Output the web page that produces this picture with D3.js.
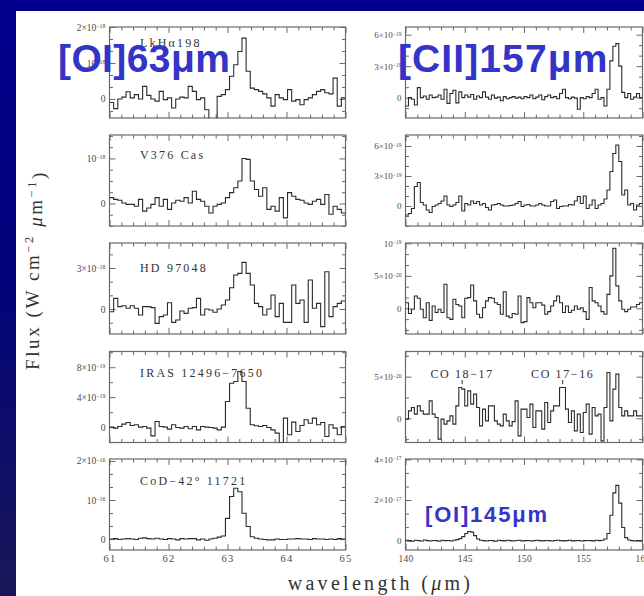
<!DOCTYPE html>
<html>
<head>
<meta charset="utf-8">
<script src="https://cdn.jsdelivr.net/npm/d3@7"></script>
<style>
  html, body { margin: 0; padding: 0; background: #00008c; }
  svg { display: block; }
</style>
</head>
<body>
<svg id="chart" width="644" height="596"></svg>
<script>
// ---------- data ----------
// Sources (one row each)
const sources = ["LkHα198", "V376 Cas", "HD 97048", "IRAS 12496−7650", "CoD−42° 11721"];

// Wavelength ranges of the two columns (μm)
const oiRange = [61, 65];
const ciiRange = [140, 160];
const oiXTicks = [61, 62, 63, 64, 65];
const ciiXTicks = [140, 145, 150, 155, 160];

// [OI] 63 μm spectra, equal-width bins across 61–65 μm
// LkHα198 (units 1e-18 W cm-2 μm-1)
const oiLkHa = [-0.1, -0.27, 0, 0.05, 0.2, 0.03, 0.12, 0, 0.35, 0.1, 0, -0.06, 0.21, -0.02, 0.03, -0.25, 0, 0.05, 0.03, 0.35,
  0.21, -0.02, 0.03, -0.3, -0.6, -0.6, 0.07, 0.12, 0.26, 0.63, 0.95, 1.32, 1.69, 0.77, 0.3, 0.26, 0.21, 0.14, 0.03, -0.2,
  0.12, 0.03, -0.02, 0.26, -0.06, -0.02, -0.16, -0.02, 0.03, 0.12, 0.21, 0.26, 0.17, 0.14, 0.58, -0.2, 0.03];
// V376 Cas (1e-18)
const oiV376 = [0.13, 0.09, 0.07, 0.01, -0.02, -0.02, -0.06, 0.09, -0.17, -0.1, -0.02, 0.13, -0.06, 0.09, -0.13, 0.01, 0.07, 0.05, 0.13, 0.01,
  0.27, 0.09, 0.05, -0.06, -0.21, -0.06, -0.02, 0.01, 0.13, 0.24, 0.35, 0.5, 1.0, 0.98, 0.5, 0.31, 0.16, 0.35, -0.13, -0.06,
  -0.17, 0.13, -0.32, 0.24, 0.16, 0.09, 0.07, 0.01, -0.02, 0.05, 0.09, -0.02, 0.2, -0.24, -0.06, -0.13, -0.21];
// HD 97048 (1e-18)
const oiHD = [-0.2, 0.78, 0.17, 0.24, 0.05, 0.24, 0.05, -0.44, 0.17, 0.17, 0.1, -1.05, -0.56, -0.44, 0.46, -0.98, -0.8, -0.15, -0.32, 0.05,
  0.1, 0.78, -0.44, 0, -0.07, -0.24, 0, 0.29, 0.66, 1.56, 2.49, 2.61, 3.41, 2.61, 1.76, 0.41, 0.17, -0.44, 0, 1.02,
  -0.56, 0.41, -0.98, -0.98, 1.76, 0.41, 0.66, -0.98, 2.12, 0.05, 0.41, -1.29, 2.73, -0.56, 0.17, 0.41, 0.59];
// IRAS 12496-7650 (1e-19)
const oiIRAS = [0, -0.13, 0.09, 0.4, 0.62, 0.22, 0.31, 0, 0.09, -0.13, -1.16, 0.76, 0.09, 0, -0.27, 0.31, -0.04, -0.13, 0.09, -0.22,
  0.09, -0.36, 0.09, 0, -0.04, -0.13, -0.36, 0, 3.42, 5.87, 6.09, 7.42, 6.09, 2.53, 0.31, 0.18, 0.09, 0.22, -0.04, -0.36,
  -0.8, -2.1, 1.2, -1.02, 0.67, -0.58, 0.22, 0.98, 0.53, 1.2, 0.31, 0.62, -1.24, 0.31, -0.13, -1.02, 0.09];
// CoD-42 11721 (1e-16)
const oiCoD = [0, 0.01, -0.01, 0, 0.01, 0, -0.01, 0.02, 0.03, 0.01, 0, 0.02, 0, -0.01, 0.01, 0, -0.02, 0.01, 0, 0.01,
  0.01, -0.02, 0, -0.03, 0, 0.02, 0.05, 0.08, 0.53, 1.09, 1.3, 1.21, 0.66, 0.32, 0.06, 0.02, 0, -0.01, -0.02, -0.02,
  0, -0.01, -0.01, 0, 0, 0.01, 0, 0, -0.01, 0.01, 0, 0, -0.01, 0, -0.01, 0.01, 0];

// [CII] 157 μm / [OI] 145 μm spectra, 0.25 μm bins across 140–160 μm
// LkHα198 (1e-19)
const ciiLkHa = [-0.8, 0, -0.15, -0.7, 0.95, 0, 0.15, -0.15, 0.25, 0,
  0.05, 0.25, -0.15, 0.8, -0.55, 0.4, 0.7, -0.5, 0.55, 0,
  0.25, 0.05, 0.3, -0.15, 0.15, 0, 0.55, 0.05, -0.15, 0.25,
  -0.05, 0.05, -0.3, 0.1, -0.1, 0, 0.1, -0.05, 0.05, -0.1,
  0.1, 0, 0.25, -0.1, 0.05, 0.25, -0.2, 0.1, 0.25, 0,
  0.1, -0.1, 0.4, 0.8, 0, -0.1, 0.05, -0.05, -1.1, 0,
  -0.1, 0.1, 0, 0.4, 0.8, -0.15, 0, -0.8, 0.8, 3.5,
  4.9, 5.15, 3.0, 0.5, 0, 0.4, -0.15, 0.05, 0.4, 0];
// V376 Cas (1e-19)
const ciiV376 = [-0.9, -0.75, -0.25, 1.95, 2.35, 0.35, 0.1, -0.4, -0.65, -0.05,
  0.1, 0.25, 0.5, 1.0, 0.1, -0.05, 0.1, 0.35, 1.0, -0.5,
  0.25, 0.1, 0.5, 0.25, 0.45, 0.1, 0.25, -0.15, -0.4, 0.1,
  0.15, 0.25, 0.1, 0, 0, 0.05, 0.1, 0.25, 0.45, -0.05,
  0.1, 0.15, 0, 0, 0.1, 0.25, 0.1, 0, 0, 0.45,
  0.6, -0.25, -0.05, 0, 0, 0.15, 0.1, 0.5, 0.95, 0.25,
  1.0, -0.25, 0.1, 0.6, -0.25, 0.1, 0.25, 0.7, 1.6, 3.45,
  5.25, 6.1, 4.45, 1.1, 1.6, 0.1, 0.25, -0.4, 0.1, 0.25];
// HD 97048 (1e-20)
const ciiHD = [0.85, -0.8, -0.15, 1.9, 1.55, -0.15, -1.45, 0.85, -1.85, 0.35,
  -0.65, -0.15, -0.65, 3.7, -1.45, -1.7, 1.4, 0.6, 0.35, -1.45,
  1.55, 1.65, 3.6, 1.15, -0.9, -1.45, 0.1, 1.15, 1.65, 1.55,
  0.85, 0.6, -0.9, 2.55, -1.2, -1.45, -0.8, -0.9, 1.9, -2.2,
  -2.05, 1.65, 0.85, 0.1, 0.85, 0.85, 0.5, -0.9, -0.5, 0.35,
  1.15, 1.9, 0.85, -0.65, 0.35, -0.65, -0.3, 0.35, -0.15, 0.1,
  -0.5, -1.7, 3.2, 1.15, 0.85, 0.35, -0.5, -0.9, 2.15, 5.0,
  9.25, 3.45, 1.15, -0.15, -0.5, -0.15, 0.2, 0.2, 0.6, 0.85];
// IRAS 12496-7650 (1e-20)
const ciiIRAS = [-0.1, 0.9, 1.3, 0.5, 1.5, 0.9, 0.5, 0.5, 2.1, 0.5,
  0.1, -2.5, -0.1, -0.7, -0.3, 0.3, -0.7, 1.5, 3.7, 3.5,
  1.5, 3.3, 1.7, 2.9, 1.3, -0.9, 1.1, -0.3, 1.5, 1.5,
  -0.3, -0.7, -0.9, 0.5, -0.3, -0.9, -0.4, 2.1, -2.1, 1.1,
  1.1, 0.1, 1.7, -1.1, 0.9, 0.9, -1.3, 1.9, -0.5, 0.9,
  1.5, 1.5, 3.7, 3.7, 1.1, -0.5, 0.9, -1.5, 0.5, -1.7,
  0.7, 1.7, -1.9, 1.3, 0.3, 0.5, -2.7, 1.3, 5.5, -0.3,
  3.5, 5.3, 1.3, 0.3, 0.9, 0.3, 0.3, 0.9, 0.3, 0.3];
// CoD-42 11721 (1e-17)
const ciiCoD = [0.02, 0, -0.03, 0.02, 0, -0.02, 0.03, 0, -0.02, 0.01,
  0, -0.03, 0.02, 0, 0.01, -0.02, 0.02, 0.05, 0.1, 0.2,
  0.35, 0.45, 0.42, 0.25, 0.08, 0.02, 0, -0.02, 0.01, 0,
  -0.03, 0.02, 0, -0.01, 0.02, 0, -0.02, 0.01, 0.02, -0.01,
  0, 0.01, -0.02, 0, 0.02, 0, -0.01, 0.01, 0, -0.02,
  0.01, 0.02, 0, -0.01, 0, 0.02, -0.01, 0, 0.01, -0.02,
  0, 0.01, 0, -0.01, 0.02, 0, 0.02, 0.08, 0.35, 1.25,
  2.35, 2.72, 1.85, 0.65, 0.15, 0.03, 0, -0.02, 0.01, 0];

// CO lines marked in the IRAS long-wavelength spectrum
const coLines = [144.78, 153.27];
const coLabels = ["CO 18−17", "CO 17−16"];

// Y tick values (in each panel's unit) and their labels
const oiLkHaTicks = [0, 1, 2],   oiLkHaLabels = ["0", "10^-18", "2×10^-18"];
const oiV376Ticks = [0, 1],      oiV376Labels = ["0", "10^-18"];
const oiHDTicks = [0, 3],        oiHDLabels = ["0", "3×10^-18"];
const oiIRASTicks = [0, 4, 8],   oiIRASLabels = ["0", "4×10^-19", "8×10^-19"];
const oiCoDTicks = [0, 1, 2],    oiCoDLabels = ["0", "10^-16", "2×10^-16"];
const ciiLkHaTicks = [0, 3, 6],  ciiLkHaLabels = ["0", "3×10^-19", "6×10^-19"];
const ciiV376Ticks = [0, 3, 6],  ciiV376Labels = ["0", "3×10^-19", "6×10^-19"];
const ciiHDTicks = [0, 5, 10],   ciiHDLabels = ["0", "5×10^-20", "10^-19"];
const ciiIRASTicks = [0, 5],     ciiIRASLabels = ["0", "5×10^-20"];
const ciiCoDTicks = [0, 2, 4],   ciiCoDLabels = ["0", "2×10^-17", "4×10^-17"];

// Line identifications
const lineTitles = ["[OI]63μm", "[CII]157μm", "[OI]145μm"];

// ---------- layout ----------
const W = 644, H = 596;
const cols = [
  { range: oiRange, x0: 109.5, x1: 345.5, major: oiXTicks, minorStep: 0.2, fs: 10.5 },
  { range: ciiRange, x0: 405.5, x1: 642.5, major: ciiXTicks, minorStep: 1, fs: 9.5 }
];
const rowTop = [27, 135, 243, 351.5, 459];
const panelH = 91;
const nameOffset = [19.5, 24, 28.5, 25, 26];

const panels = [
  { col: 0, row: 0, vals: oiLkHa, dom: [-0.53, 2.0],  ticks: oiLkHaTicks, labels: oiLkHaLabels, minor: 1 / 3 },
  { col: 0, row: 1, vals: oiV376, dom: [-0.5, 1.52],  ticks: oiV376Ticks, labels: oiV376Labels, minor: 0.25 },
  { col: 0, row: 2, vals: oiHD,   dom: [-1.83, 4.83], ticks: oiHDTicks,   labels: oiHDLabels,   minor: 1 },
  { col: 0, row: 3, vals: oiIRAS, dom: [-2.05, 10.1], ticks: oiIRASTicks, labels: oiIRASLabels, minor: 2 },
  { col: 0, row: 4, vals: oiCoD,  dom: [-0.28, 2.05], ticks: oiCoDTicks,  labels: oiCoDLabels,  minor: 1 / 3 },
  { col: 1, row: 0, vals: ciiLkHa, dom: [-1.94, 6.73], ticks: ciiLkHaTicks, labels: ciiLkHaLabels, minor: 1 },
  { col: 1, row: 1, vals: ciiV376, dom: [-2.0, 7.1],   ticks: ciiV376Ticks, labels: ciiV376Labels, minor: 1 },
  { col: 1, row: 2, vals: ciiHD,   dom: [-3.95, 10.05], ticks: ciiHDTicks,  labels: ciiHDLabels,   minor: 5 / 3 },
  { col: 1, row: 3, vals: ciiIRAS, dom: [-2.9, 8.02],  ticks: ciiIRASTicks, labels: ciiIRASLabels, minor: 2.5 },
  { col: 1, row: 4, vals: ciiCoD,  dom: [-0.46, 4.02], ticks: ciiCoDTicks,  labels: ciiCoDLabels,  minor: 2 / 3 }
];

const FRAME = "#6a6a6a", INK = "#2b2b2b", LABEL = "#4a4a4a";
const SERIF = "'Liberation Serif', 'Times New Roman', serif";

const svg = d3.select("#chart");

// ---------- background ----------
const defs = svg.append("defs");
const bg = defs.append("linearGradient").attr("id", "bg")
  .attr("x1", 0).attr("y1", 0).attr("x2", 0).attr("y2", 1);
bg.append("stop").attr("offset", "0%").attr("stop-color", "#00008e");
bg.append("stop").attr("offset", "50%").attr("stop-color", "#040478");
bg.append("stop").attr("offset", "100%").attr("stop-color", "#181858");
svg.append("rect").attr("width", W).attr("height", H).attr("fill", "url(#bg)");
svg.append("rect").attr("x", 16).attr("y", 11).attr("width", W - 16).attr("height", H - 11).attr("fill", "#fff");

// Superscript-aware tick label: "2×10^-18" -> 2×10 with raised −18
function richLabel(textSel) {
  textSel.each(function () {
    const t = d3.select(this);
    const s = t.text();
    const m = s.match(/^(.*?10)\^(-?\d+)$/);
    if (!m) return;
    t.text(null);
    t.append("tspan").text(m[1]);
    t.append("tspan").attr("dy", "-0.45em").attr("font-size", "0.62em").text(m[2].replace("-", "−"));
  });
}

function minorValues(lo, hi, step, majors) {
  const out = [];
  for (let k = Math.ceil(lo / step - 1e-9); k <= Math.floor(hi / step + 1e-9); k++) {
    const v = k * step;
    if (!majors.some(m => Math.abs(m - v) < 1e-6)) out.push(v);
  }
  return out;
}

function styleAxis(g) {
  g.select(".domain").remove();
  g.selectAll(".tick line").attr("stroke", FRAME).attr("stroke-width", 1);
}

panels.forEach((p, idx) => {
  const c = cols[p.col];
  const top = rowTop[p.row], bottom = top + panelH;
  const x = d3.scaleLinear().domain(c.range).range([c.x0, c.x1]);
  const y = d3.scaleLinear().domain(p.dom).range([bottom, top]);
  const g = svg.append("g");

  // clip for spectrum
  const cid = "clip" + idx;
  defs.append("clipPath").attr("id", cid).append("rect")
    .attr("x", c.x0).attr("y", top).attr("width", c.x1 - c.x0).attr("height", panelH);

  // x ticks (top & bottom, inward)
  const xMinor = minorValues(c.range[0], c.range[1], c.minorStep, c.major);
  const isBottom = p.row === 4;
  g.append("g").attr("transform", `translate(0,${bottom})`)
    .call(d3.axisBottom(x).tickValues(xMinor).tickSize(-3.5).tickFormat(""))
    .call(styleAxis);
  const xb = g.append("g").attr("transform", `translate(0,${bottom})`)
    .call(d3.axisBottom(x).tickValues(c.major).tickSize(-6).tickPadding(isBottom ? 5 : 0)
      .tickFormat(isBottom ? d3.format("d") : ""))
    .call(styleAxis);
  xb.selectAll("text").attr("font-family", SERIF).attr("font-size", c.fs)
    .attr("fill", LABEL).attr("letter-spacing", p.col === 0 ? 1.2 : 0.3);
  g.append("g").attr("transform", `translate(0,${top})`)
    .call(d3.axisTop(x).tickValues(xMinor).tickSize(-3.5).tickFormat(""))
    .call(styleAxis);
  g.append("g").attr("transform", `translate(0,${top})`)
    .call(d3.axisTop(x).tickValues(c.major).tickSize(-6).tickFormat(""))
    .call(styleAxis);

  // y ticks (left & right, inward)
  const yMinor = minorValues(p.dom[0], p.dom[1], p.minor, p.ticks);
  g.append("g").attr("transform", `translate(${c.x0},0)`)
    .call(d3.axisLeft(y).tickValues(yMinor).tickSize(-3.5).tickFormat(""))
    .call(styleAxis);
  const yl = g.append("g").attr("transform", `translate(${c.x0},0)`)
    .call(d3.axisLeft(y).tickValues(p.ticks).tickSize(-6).tickPadding(4)
      .tickFormat((d, i) => p.labels[i]))
    .call(styleAxis);
  yl.selectAll("text").attr("font-family", SERIF).attr("font-size", p.col === 0 ? 9.5 : 9)
    .attr("fill", LABEL).call(richLabel);
  g.append("g").attr("transform", `translate(${c.x1},0)`)
    .call(d3.axisRight(y).tickValues(yMinor).tickSize(-3.5).tickFormat(""))
    .call(styleAxis);
  g.append("g").attr("transform", `translate(${c.x1},0)`)
    .call(d3.axisRight(y).tickValues(p.ticks).tickSize(-6).tickFormat(""))
    .call(styleAxis);

  // frame
  g.append("rect").attr("x", c.x0).attr("y", top).attr("width", c.x1 - c.x0).attr("height", panelH)
    .attr("fill", "none").attr("stroke", FRAME).attr("stroke-width", 1.2);

  // binned spectrum as a histogram-style step line
  const n = p.vals.length, bw = (c.range[1] - c.range[0]) / n;
  const pts = [];
  p.vals.forEach((v, i) => {
    pts.push([c.range[0] + i * bw, v]);
    pts.push([c.range[0] + (i + 1) * bw, v]);
  });
  g.append("path").datum(pts)
    .attr("clip-path", `url(#${cid})`)
    .attr("fill", "none").attr("stroke", INK).attr("stroke-width", 1.1)
    .attr("stroke-linejoin", "miter")
    .attr("d", d3.line().x(d => x(d[0])).y(d => y(d[1])));

  // source name (left column)
  if (p.col === 0) {
    g.append("text").attr("x", 140).attr("y", top + nameOffset[p.row])
      .attr("font-family", SERIF).attr("font-size", 12).attr("letter-spacing", 2.2)
      .attr("fill", "#333").text(sources[p.row]);
  }

  // CO line markers
  if (p.col === 1 && p.row === 3) {
    coLines.forEach((w, i) => {
      g.append("line").attr("x1", x(w)).attr("x2", x(w))
        .attr("y1", y(4.6)).attr("y2", y(4.1)).attr("stroke", INK).attr("stroke-width", 1);
      g.append("text").attr("x", x(w)).attr("y", y(4.85)).attr("text-anchor", "middle")
        .attr("font-family", SERIF).attr("font-size", 12).attr("letter-spacing", 1.6)
        .attr("fill", "#333").text(coLabels[i]);
    });
  }
});

// ---------- axis titles ----------
const yt = svg.append("text")
  .attr("transform", "translate(39,270) rotate(-90)")
  .attr("text-anchor", "middle")
  .attr("font-family", SERIF).attr("font-size", 19).attr("letter-spacing", 2.6)
  .attr("fill", "#333");
yt.append("tspan").text("Flux (W cm");
yt.append("tspan").attr("dy", "-0.45em").attr("font-size", "0.65em").text("−2");
yt.append("tspan").attr("dy", "0.45em").text(" ");
yt.append("tspan").attr("font-style", "italic").text("μ");
yt.append("tspan").text("m");
yt.append("tspan").attr("dy", "-0.45em").attr("font-size", "0.65em").text("−1");
yt.append("tspan").attr("dy", "0.45em").text(")");

const xt = svg.append("text")
  .attr("x", 380.5).attr("y", 590).attr("text-anchor", "middle")
  .attr("font-family", SERIF).attr("font-size", 20).attr("letter-spacing", 3.3)
  .attr("fill", "#333");
xt.append("tspan").text("wavelength (");
xt.append("tspan").attr("font-style", "italic").text("μ");
xt.append("tspan").text("m)");

// ---------- line identification labels ----------
const BLUE = "#3434c8";
const SANS = "'Liberation Sans', Arial, sans-serif";
svg.append("text").attr("x", 58).attr("y", 72).attr("font-family", SANS).attr("font-weight", "bold")
  .attr("font-size", 39).attr("letter-spacing", 0.4).attr("fill", BLUE).text(lineTitles[0]);
svg.append("text").attr("x", 398).attr("y", 72).attr("font-family", SANS).attr("font-weight", "bold")
  .attr("font-size", 39).attr("letter-spacing", 1.1).attr("fill", BLUE).text(lineTitles[1]);
svg.append("text").attr("x", 425).attr("y", 522).attr("font-family", SANS).attr("font-weight", "bold")
  .attr("font-size", 22).attr("letter-spacing", 1.8).attr("fill", BLUE).text(lineTitles[2]);
</script>
</body>
</html>
